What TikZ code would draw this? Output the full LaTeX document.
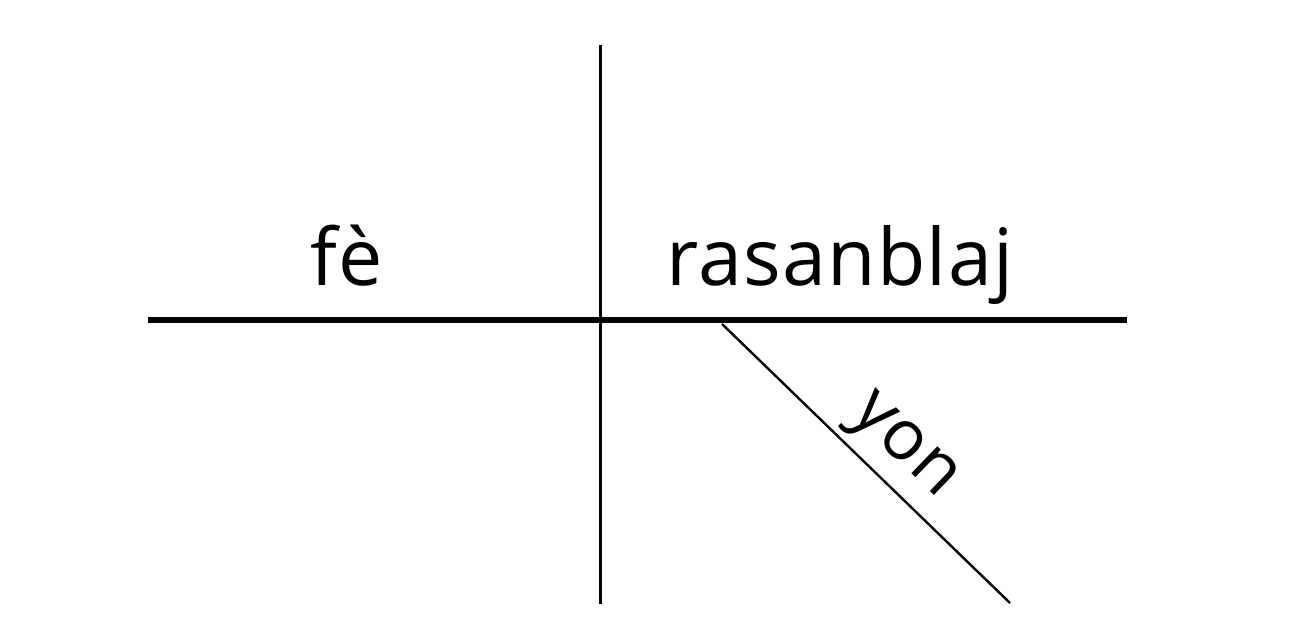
\documentclass[tikz,border=0pt]{standalone}
\usepackage{fontspec}
\setmainfont{Open Sans}[LetterSpace=1.5]
\begin{document}
\begin{tikzpicture}[x=1pt,y=-1pt,
  word/.style={font=\fontsize{79}{84}\selectfont, inner sep=0pt, anchor=base},
  smallword/.style={word, font=\fontsize{70}{74}\selectfont},
  mainline/.style={line width=6pt},
  divline/.style={line width=3pt},
  modline/.style={line width=2.4pt}]
\useasboundingbox (0,0) rectangle (1304,642);
\coordinate (hl) at (148,320);
\coordinate (hr) at (1127,320);
\coordinate (vt) at (600,45);
\coordinate (vb) at (600,604);
\coordinate (ds) at (722,324);
\coordinate (de) at (1010,603);
\draw[mainline] (hl) -- (hr);
\draw[divline] (vt) -- (vb);
\draw[modline] (ds) -- (de);
\node[word] (subj) at (347,285) {fè};
\node[word] (verb) at (840,285) {rasanblaj};
\node[smallword, rotate=-44] (mod) at (894,457) {yon};
\end{tikzpicture}
\end{document}
